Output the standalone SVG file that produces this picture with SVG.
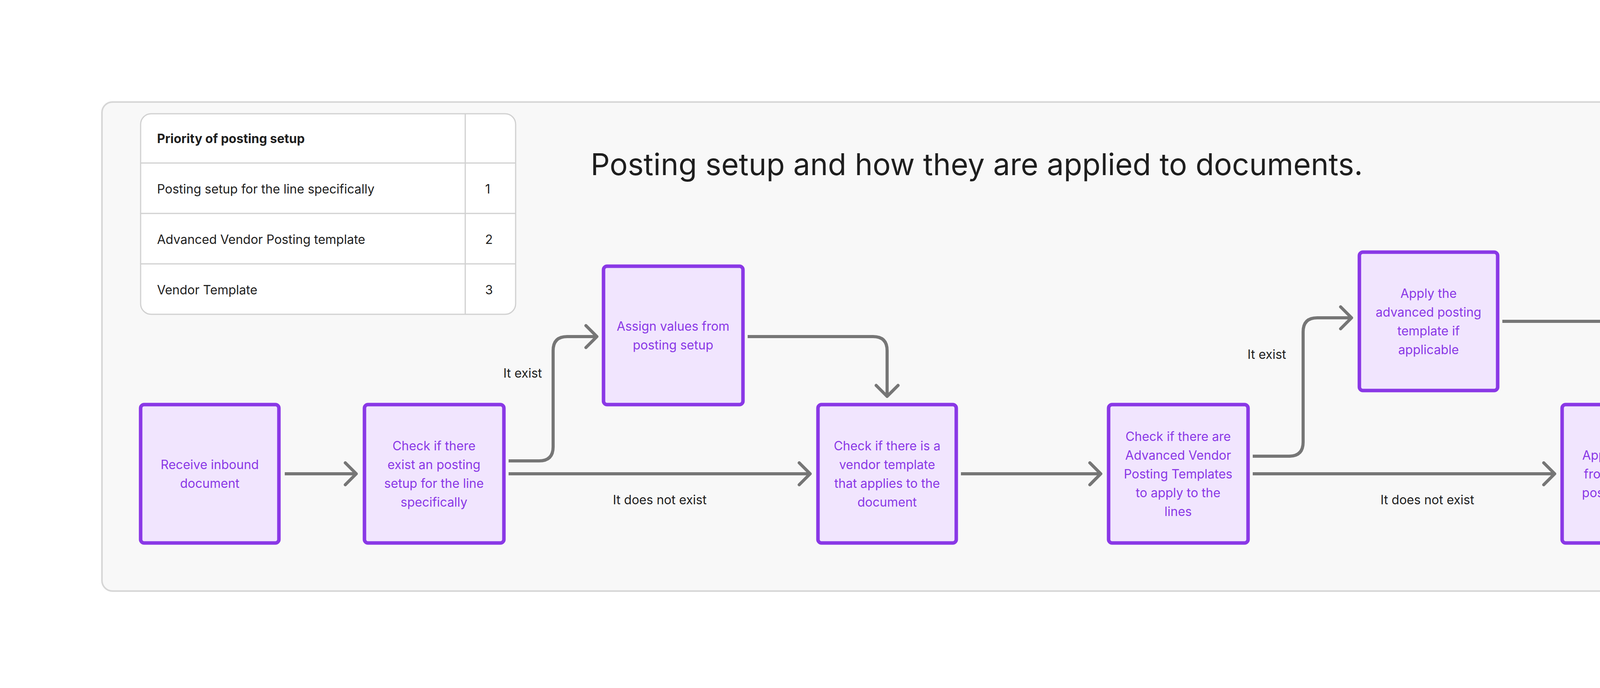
<svg xmlns="http://www.w3.org/2000/svg" width="4672" height="1760" viewBox="0 0 4672 1760">
<style>
.node rect{fill:#f1e5fe;stroke:#8a38e6;stroke-width:9}
.node text{fill:#8a38e6;font-family:Inter,"Liberation Sans",sans-serif;font-size:32px;text-anchor:middle;dominant-baseline:central}
.conn path{fill:none;stroke:#767676;stroke-width:8}
.lbl{fill:#1e1e1e;font-family:Inter,"Liberation Sans",sans-serif;font-size:32px;text-anchor:middle;dominant-baseline:central}
.tb{fill:#1e1e1e;font-family:Inter,"Liberation Sans",sans-serif;font-size:32px;dominant-baseline:central}
.tl{stroke:#d0d0d0;stroke-width:3}
</style>
<defs>
<marker id="ah" viewBox="0 0 40 64" refX="36" refY="32" markerWidth="40" markerHeight="64" markerUnits="userSpaceOnUse" orient="auto">
<path d="M8 4 L36 32 L8 60" fill="none" stroke="#767676" stroke-width="8" stroke-linecap="round" stroke-linejoin="round"/>
</marker>
</defs>
<rect width="4672" height="1760" fill="#ffffff"/>
<rect x="261" y="261" width="4182" height="1251" rx="27" fill="#f8f8f8" stroke="#d6d6d6" stroke-width="4"/>
<g id="table">
<rect x="360" y="291" width="960" height="513" rx="27" fill="#ffffff" stroke="#d0d0d0" stroke-width="3"/>
<line class="tl" x1="360" y1="417" x2="1320" y2="417"/>
<line class="tl" x1="360" y1="546" x2="1320" y2="546"/>
<line class="tl" x1="360" y1="675" x2="1320" y2="675"/>
<line class="tl" x1="1191" y1="291" x2="1191" y2="804"/>
<text class="tb" x="402" y="354" font-weight="bold">Priority of posting setup</text>
<text class="tb" x="402" y="483">Posting setup for the line specifically</text>
<text class="tb" x="1242" y="483">1</text>
<text class="tb" x="402" y="612">Advanced Vendor Posting template</text>
<text class="tb" x="1242" y="612">2</text>
<text class="tb" x="402" y="741">Vendor Template</text>
<text class="tb" x="1242" y="741">3</text>
</g>
<text x="1512" y="448" font-family="Inter,'Liberation Sans',sans-serif" font-size="77" fill="#1e1e1e">Posting setup and how they are applied to documents.</text>
<g class="conn" id="connectors">
<path d="M729 1212 H912" marker-end="url(#ah)"/>
<path d="M1302 1179 H1380 Q1416 1179 1416 1143 V897 Q1416 861 1452 861 H1528" marker-end="url(#ah)"/>
<path d="M1302 1212 H2074" marker-end="url(#ah)"/>
<path d="M1914 861 H2235 Q2271 861 2271 897 V1014" marker-end="url(#ah)"/>
<path d="M2460 1212 H2818" marker-end="url(#ah)"/>
<path d="M3207 1167 H3300 Q3336 1167 3336 1131 V849 Q3336 813 3372 813 H3460" marker-end="url(#ah)"/>
<path d="M3207 1212 H3980" marker-end="url(#ah)"/>
<path d="M3846 822 H4140 Q4176 822 4176 858 V1014" marker-end="url(#ah)"/>
</g>
<text class="lbl" x="1338" y="954">It exist</text>
<text class="lbl" x="1689" y="1278">It does not exist</text>
<text class="lbl" x="3243" y="906">It exist</text>
<text class="lbl" x="3654" y="1278">It does not exist</text>
<g class="node" id="n1"><rect x="360" y="1035" width="354" height="354" rx="9"/>
<text x="537" y="1188">Receive inbound</text><text x="537" y="1236">document</text></g>
<g class="node" id="n2"><rect x="933" y="1035" width="357" height="354" rx="9"/>
<text x="1111" y="1140">Check if there</text><text x="1111" y="1188">exist an posting</text><text x="1111" y="1236">setup for the line</text><text x="1111" y="1284">specifically</text></g>
<g class="node" id="n3"><rect x="1545" y="681" width="357" height="354" rx="9"/>
<text x="1723" y="834">Assign values from</text><text x="1723" y="882">posting setup</text></g>
<g class="node" id="n4"><rect x="2094" y="1035" width="354" height="354" rx="9"/>
<text x="2271" y="1140">Check if there is a</text><text x="2271" y="1188">vendor template</text><text x="2271" y="1236">that applies to the</text><text x="2271" y="1284">document</text></g>
<g class="node" id="n5"><rect x="2838" y="1035" width="357" height="354" rx="9"/>
<text x="3016" y="1116">Check if there are</text><text x="3016" y="1164">Advanced Vendor</text><text x="3016" y="1212">Posting Templates</text><text x="3016" y="1260">to apply to the</text><text x="3016" y="1308">lines</text></g>
<g class="node" id="n6"><rect x="3480" y="645" width="354" height="354" rx="9"/>
<text x="3657" y="750">Apply the</text><text x="3657" y="798">advanced posting</text><text x="3657" y="846">template if</text><text x="3657" y="894">applicable</text></g>
<g class="node" id="n7"><rect x="3999" y="1035" width="354" height="354" rx="9"/>
<text x="4176" y="1164">Apply the values</text><text x="4176" y="1212">from the vendor</text><text x="4176" y="1260">posting template</text></g>
</svg>
